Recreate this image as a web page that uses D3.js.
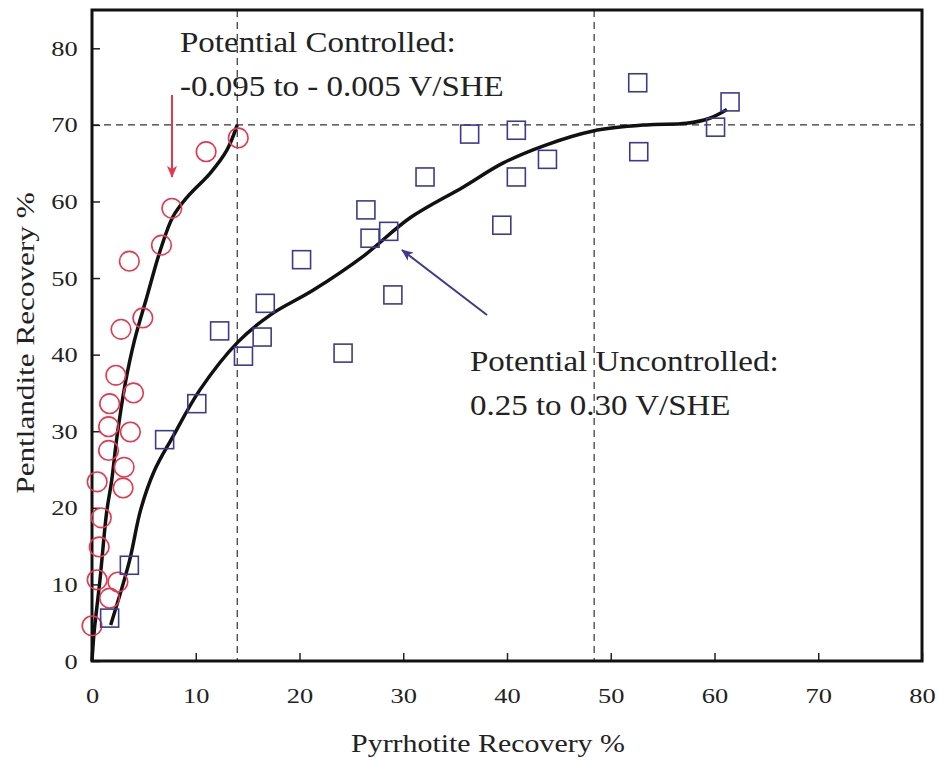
<!DOCTYPE html>
<html>
<head>
<meta charset="utf-8">
<script src="https://cdn.jsdelivr.net/npm/d3@7"></script>
<style>
  html, body { margin: 0; padding: 0; background: #fff; }
  svg { display: block; }
  text { font-family: "Liberation Serif", "Times New Roman", serif; fill: #222; }
</style>
</head>
<body>
<script>
// ---- Data ----
const controlledX = [0.0, 0.5, 0.7, 0.9, 2.5, 1.7, 0.5, 3.0, 3.1, 1.6, 3.7, 1.6, 1.7, 4.0, 2.3, 2.8, 4.9, 3.6, 6.7, 7.7, 11.0, 14.1];
const controlledY = [4.6, 10.6, 14.9, 18.7, 10.3, 8.2, 23.4, 22.6, 25.3, 27.5, 29.9, 30.6, 33.6, 35.0, 37.3, 43.3, 44.8, 52.2, 54.3, 59.1, 66.5, 68.3];

const uncontrolledX = [1.7, 3.6, 7.0, 10.1, 12.3, 14.6, 16.4, 16.7, 20.2, 24.2, 26.4, 26.8, 28.6, 29.0, 32.1, 36.4, 39.5, 40.9, 40.9, 43.9, 52.6, 52.7, 60.1, 61.5];
const uncontrolledY = [5.6, 12.5, 28.9, 33.6, 43.1, 39.8, 42.3, 46.7, 52.4, 40.2, 58.9, 55.2, 56.1, 47.8, 63.2, 68.8, 56.9, 69.3, 63.2, 65.5, 75.5, 66.5, 69.7, 73.0];

// fitted trend curves
const controlledFitX = [0.0, 0.2, 0.77, 1.4, 1.9, 2.4, 3.2, 4.1, 5.3, 6.6, 7.8, 9.2, 11.4, 13.0, 14.0];
const controlledFitY = [0.0, 3.7, 10.6, 19.3, 23.6, 29.2, 36.2, 41.9, 47.6, 53.7, 58.0, 60.6, 63.7, 66.7, 70.0];

const uncontrolledFitX = [1.8, 3.6, 4.7, 6.0, 7.8, 10.4, 14.1, 17.2, 21.3, 26.1, 30.7, 35.8, 39.6, 43.6, 48.3, 53.4, 57.3, 59.6, 61.2];
const uncontrolledFitY = [4.7, 13.0, 19.8, 24.8, 29.3, 35.4, 41.7, 45.2, 48.4, 52.8, 57.9, 61.9, 65.0, 67.3, 69.2, 70.0, 70.2, 70.9, 72.0];

const xTicks = [0, 10, 20, 30, 40, 50, 60, 70, 80];
const yTicks = [0, 10, 20, 30, 40, 50, 60, 70, 80];
const refX = [14.0, 48.4];
const refY = [70];

const xTitle = "Pyrrhotite Recovery %";
const yTitle = "Pentlandite Recovery %";
const note1 = ["Potential Controlled:", "-0.095 to - 0.005 V/SHE"];
const note2 = ["Potential Uncontrolled:", "0.25 to 0.30 V/SHE"];

// ---- Layout ----
const W = 938, H = 762;
const mLeft = 92, mRight = 922, mTop = 10, mBottom = 661;

const svg = d3.select("body").append("svg").attr("width", W).attr("height", H);

const x = d3.scaleLinear().domain([0, 80]).range([mLeft, mRight]);
const y = d3.scaleLinear().domain([0, 85]).range([mBottom, mTop]);

const red = "#e5384f", navy = "#3d3b8e";

// dashed reference lines
svg.selectAll(".vref").data(refX).enter().append("line")
  .attr("x1", d => x(d)).attr("x2", d => x(d))
  .attr("y1", mTop).attr("y2", mBottom)
  .attr("stroke", "#333").attr("stroke-width", 1.2).attr("stroke-dasharray", "7,5");
svg.selectAll(".href").data(refY).enter().append("line")
  .attr("x1", mLeft).attr("x2", mRight)
  .attr("y1", d => y(d)).attr("y2", d => y(d))
  .attr("stroke", "#333").attr("stroke-width", 1.2).attr("stroke-dasharray", "7,5");

// axes with inward ticks
const xAxis = svg.append("g").attr("transform", `translate(0,${mBottom})`)
  .call(d3.axisBottom(x).tickValues(xTicks).tickSize(-8).tickPadding(26).tickFormat(d3.format("d")));
const yAxis = svg.append("g").attr("transform", `translate(${mLeft},0)`)
  .call(d3.axisLeft(y).tickValues(yTicks).tickSize(-8).tickPadding(12).tickFormat(d3.format("d")));
[xAxis, yAxis].forEach(g => {
  g.select(".domain").remove();
  g.selectAll(".tick line").attr("stroke", "#222").attr("stroke-width", 1.5);
  g.selectAll(".tick text").attr("font-size", 22).attr("fill", "#2a2a2a")
    .style("font-family", "'Liberation Serif', 'Times New Roman', serif");
});
xAxis.selectAll(".tick text").attr("dy", "0").attr("y", 703 - mBottom).attr("transform", "scale(1.2,1)");
yAxis.selectAll(".tick text").attr("transform", "scale(1.2,1)");

// frame
svg.append("rect").attr("x", mLeft).attr("y", mTop)
  .attr("width", mRight - mLeft).attr("height", mBottom - mTop)
  .attr("fill", "none").attr("stroke", "#111").attr("stroke-width", 3);

// fitted curves
const line = d3.line().x(d => x(d[0])).y(d => y(d[1])).curve(d3.curveCatmullRom.alpha(0.5));
svg.append("path").datum(d3.zip(controlledFitX, controlledFitY)).attr("d", line)
  .attr("fill", "none").attr("stroke", "#111").attr("stroke-width", 3.5);
svg.append("path").datum(d3.zip(uncontrolledFitX, uncontrolledFitY)).attr("d", line)
  .attr("fill", "none").attr("stroke", "#111").attr("stroke-width", 3.5);

// markers
svg.selectAll(".circ").data(d3.zip(controlledX, controlledY)).enter().append("circle")
  .attr("cx", d => x(d[0])).attr("cy", d => y(d[1])).attr("r", 9.8)
  .attr("fill", "none").attr("stroke", red).attr("stroke-width", 1.6);
const sq = 18;
svg.selectAll(".sq").data(d3.zip(uncontrolledX, uncontrolledY)).enter().append("rect")
  .attr("x", d => x(d[0]) - sq / 2).attr("y", d => y(d[1]) - sq / 2)
  .attr("width", sq).attr("height", sq)
  .attr("fill", "none").attr("stroke", navy).attr("stroke-width", 1.6);

// arrows
const defs = svg.append("defs");
function marker(id, color) {
  defs.append("marker").attr("id", id).attr("viewBox", "0 0 12 10")
    .attr("refX", 11).attr("refY", 5).attr("markerWidth", 12).attr("markerHeight", 10)
    .attr("markerUnits", "userSpaceOnUse").attr("orient", "auto")
    .append("path").attr("d", "M0,0 L12,5 L0,10 L3,5 Z").attr("fill", color);
}
marker("arrRed", red);
marker("arrNavy", navy);
svg.append("line").attr("x1", 172).attr("y1", 95).attr("x2", 172).attr("y2", 177)
  .attr("stroke", red).attr("stroke-width", 2).attr("marker-end", "url(#arrRed)");
svg.append("line").attr("x1", 487).attr("y1", 315).attr("x2", 402).attr("y2", 250)
  .attr("stroke", navy).attr("stroke-width", 2).attr("marker-end", "url(#arrNavy)");

// annotations
function addText(str, tx, ty, size, sx) {
  svg.append("text").attr("transform", `translate(${tx},${ty}) scale(${sx},1)`)
    .attr("font-size", size).attr("fill", "#2a2a2a").text(str);
}
addText(note1[0], 180, 52, 30, 1.1);
addText(note1[1], 180, 96, 30, 1.1);
addText(note2[0], 470, 371, 30, 1.1);
addText(note2[1], 470, 415, 30, 1.1);

// axis titles
svg.append("text").attr("transform", `translate(488,752) scale(1.15,1)`)
  .attr("text-anchor", "middle").attr("font-size", 26).attr("fill", "#2a2a2a").text(xTitle);
svg.append("text").attr("transform", `translate(34,343) rotate(-90) scale(1.2,1)`)
  .attr("text-anchor", "middle").attr("font-size", 26).attr("fill", "#2a2a2a").text(yTitle);
</script>
</body>
</html>
